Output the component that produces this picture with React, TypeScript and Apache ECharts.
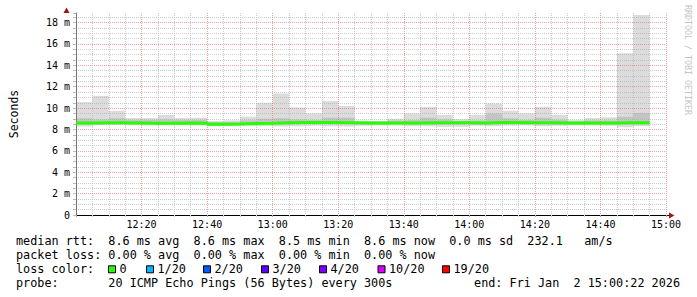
import React, { useEffect, useRef } from 'react';
import * as echarts from 'echarts';

// ---- data (5-minute bins starting at 12:00, minutes since 12:00) ----
const binStarts = [0, 5, 10, 15, 20, 25, 30, 35, 40, 45, 50, 55, 60, 65, 70, 75, 80, 85, 90, 95, 100, 105, 110, 115, 120, 125, 130, 135, 140, 145, 150, 155, 160, 165, 170];
const binMinutes = 5;
const medianV = [8.6, 8.62, 8.62, 8.6, 8.58, 8.58, 8.6, 8.58, 8.5, 8.52, 8.56, 8.58, 8.62, 8.66, 8.66, 8.66, 8.64, 8.6, 8.6, 8.6, 8.6, 8.62, 8.62, 8.62, 8.6, 8.66, 8.66, 8.62, 8.62, 8.6, 8.6, 8.6, 8.6, 8.64, 8.64];
const minV = [8.28, 8.4, 8.42, 8.4, 8.38, 8.4, 8.42, 8.38, 8.3, 8.3, 8.35, 8.3, 8.28, 8.3, 8.35, 8.3, 8.28, 8.35, 8.38, 8.38, 8.3, 8.3, 8.25, 8.25, 8.35, 8.3, 8.35, 8.38, 8.3, 8.35, 8.38, 8.38, 8.35, 8.2, 8.3];
const loV = [8.48, 8.5, 8.5, 8.48, 8.46, 8.46, 8.48, 8.46, 8.38, 8.4, 8.44, 8.46, 8.5, 8.54, 8.54, 8.54, 8.52, 8.48, 8.48, 8.48, 8.48, 8.5, 8.5, 8.5, 8.48, 8.54, 8.54, 8.5, 8.5, 8.48, 8.48, 8.48, 8.48, 8.5, 8.5];
const hiV = [9.05, 8.95, 9.05, 8.9, 8.9, 8.95, 8.9, 8.9, 8.7, 8.72, 8.85, 9.0, 9.05, 8.95, 8.9, 9.1, 9.1, 8.72, 8.72, 8.85, 8.9, 9.1, 8.95, 8.8, 8.85, 9.5, 9.05, 8.9, 9.1, 8.9, 8.75, 8.85, 8.85, 9.2, 9.55];
const maxV = [10.56, 11.15, 9.75, 9.07, 9.07, 9.37, 9.07, 9.1, 8.8, 8.85, 9.2, 10.5, 11.37, 10.06, 9.5, 10.68, 10.2, 8.8, 8.8, 9.0, 9.5, 10.12, 9.37, 8.97, 9.37, 10.43, 9.75, 9.5, 10.12, 9.37, 8.87, 9.07, 9.15, 15.14, 18.72];

const xTickLabels = ['', '12:20', '12:40', '13:00', '13:20', '13:40', '14:00', '14:20', '14:40', '15:00'];
const yTickLabels = ['0', '2 m', '4 m', '6 m', '8 m', '10 m', '12 m', '14 m', '16 m', '18 m'];

const statLines = [
  'median rtt:  8.6 ms avg  8.6 ms max  8.5 ms min  8.6 ms now  0.0 ms sd  232.1   am/s',
  'packet loss: 0.00 % avg  0.00 % max  0.00 % min  0.00 % now',
  'loss color:',
  'probe:       20 ICMP Echo Pings (56 Bytes) every 300s',
];
const endLine = 'end: Fri Jan  2 15:00:22 2026';
const lossLabels = ['0', '1/20', '2/20', '3/20', '4/20', '10/20', '19/20'];
const lossColors = ['#26ff00', '#00b8ff', '#0059ff', '#5e00ff', '#7e00ff', '#dd00ff', '#ff0000'];
const watermark = 'RRDTOOL / TOBI OETIKER';

// ---- layout ----
const MONO = 'DejaVu Sans Mono';
const legendX = [108.5, 146.5, 203.5, 261.5, 319.5, 378, 442.5];
const rowY = [241, 255.3, 269.3, 283.3];
const majorGrid = 'rgba(225,90,90,0.55)';
const minorGrid = 'rgba(170,170,170,0.6)';

export default function App() {
  const ref = useRef<HTMLDivElement>(null);
  useEffect(() => {
    if (!ref.current) return;
    const chart = echarts.init(ref.current, null, { renderer: 'svg' });

    const smokeData = binStarts.map((s, i) => [s, s + binMinutes, minV[i], loV[i], hiV[i], maxV[i]]);
    const medianData = binStarts.map((s, i) => [s, medianV[i]]);
    medianData.push([binStarts[binStarts.length - 1] + binMinutes, medianV[medianV.length - 1]]);

    const graphics: any[] = [];
    statLines.forEach((t, i) => {
      graphics.push({
        type: 'text', x: 16, y: rowY[i], silent: true,
        style: { text: t, font: `11.8px "${MONO}"`, fill: '#000', align: 'left', verticalAlign: 'middle', textAlign: 'left', textVerticalAlign: 'middle' },
      });
    });
    graphics.push({
      type: 'text', x: 680, y: rowY[3], silent: true,
      style: { text: endLine, font: `11.8px "${MONO}"`, fill: '#000', align: 'right', verticalAlign: 'middle', textAlign: 'right', textVerticalAlign: 'middle' },
    });
    lossLabels.forEach((lab, i) => {
      graphics.push({
        type: 'rect', silent: true,
        shape: { x: legendX[i], y: rowY[2] - 3.5, width: 7, height: 7 },
        style: { fill: lossColors[i], stroke: '#000', lineWidth: 1 },
      });
      graphics.push({
        type: 'text', x: legendX[i] + 11, y: rowY[2], silent: true,
        style: { text: lab, font: `11.8px "${MONO}"`, fill: '#000', align: 'left', verticalAlign: 'middle', textAlign: 'left', textVerticalAlign: 'middle' },
      });
    });
    // watermark
    graphics.push({
      type: 'text', x: 688, y: 60, rotation: -Math.PI / 2, silent: true,
      style: { text: watermark, font: `8.3px "${MONO}"`, fill: '#c4c4c4', align: 'center', verticalAlign: 'middle', textAlign: 'center', textVerticalAlign: 'middle' },
    });
    // axis arrows
    graphics.push({ type: 'line', silent: true, shape: { x1: 666, y1: 215.5, x2: 669, y2: 215.5 }, style: { stroke: '#000', lineWidth: 1 } });
    graphics.push({ type: 'polygon', silent: true, shape: { points: [[669, 212.5], [674.5, 215.5], [669, 218.5]] }, style: { fill: '#a01515' } });
    graphics.push({ type: 'polygon', silent: true, shape: { points: [[63.5, 13], [66.5, 7.5], [69.5, 13]] }, style: { fill: '#a01515' } });

    const option: any = {
      animation: false,
      backgroundColor: '#ffffff',
      textStyle: { fontFamily: MONO },
      grid: { left: 66, right: 31, top: 13, bottom: 82, containLabel: false },
      xAxis: {
        type: 'value', min: 0, max: 180, interval: 20, z: 3,
        axisLine: { show: true, lineStyle: { color: '#000', width: 1 } },
        axisTick: { show: true, length: 2, lineStyle: { color: '#aaa' } },
        minorTick: { show: true, splitNumber: 4, length: 2, lineStyle: { color: '#ccc' } },
        axisLabel: {
          formatter: (v: number) => xTickLabels[Math.round(v / 20)] ?? '',
          fontSize: 10, fontFamily: MONO, color: '#000', margin: 4,
        },
        splitLine: { show: true, lineStyle: { color: majorGrid, type: [1, 1], width: 1 } },
        minorSplitLine: { show: true, lineStyle: { color: minorGrid, type: [1, 1], width: 1 } },
      },
      yAxis: {
        type: 'value', min: 0, max: 18.9, interval: 0.5, z: 3,
        name: 'Seconds', nameLocation: 'middle', nameRotate: 90, nameGap: 56,
        nameTextStyle: { fontFamily: MONO, fontSize: 11.5, color: '#000' },
        axisLine: { show: true, lineStyle: { color: '#777', width: 1 } },
        axisTick: { show: true, length: 3, lineStyle: { color: '#bbb' } },
        axisLabel: {
          formatter: (v: number) => {
            const k = v / 2;
            return Math.abs(k - Math.round(k)) < 1e-6 ? (yTickLabels[Math.round(k)] ?? '') : '';
          },
          fontSize: 10, fontFamily: MONO, color: '#000', margin: 6,
        },
        splitLine: {
          show: true, showMaxLine: false,
          lineStyle: { color: [majorGrid, minorGrid, minorGrid, minorGrid], type: [1, 1], width: 1 },
        },
      },
      series: [
        {
          type: 'custom', z: 1, silent: true,
          encode: { x: [0, 1], y: [2, 5] },
          data: smokeData,
          renderItem: (params: any, api: any) => {
            const x0 = api.value(0), x1 = api.value(1);
            const a = api.coord([x0, api.value(5)]);
            const b = api.coord([x1, api.value(2)]);
            const c = api.coord([x0, api.value(4)]);
            const d = api.coord([x1, api.value(3)]);
            return {
              type: 'group',
              children: [
                { type: 'rect', shape: { x: a[0], y: a[1], width: b[0] - a[0], height: b[1] - a[1] }, style: { fill: '#dcdcdc' } },
                { type: 'rect', shape: { x: c[0], y: c[1], width: d[0] - c[0], height: d[1] - c[1] }, style: { fill: '#c4c4c4' } },
              ],
            };
          },
        },
        {
          type: 'line', z: 5, silent: true, step: 'end', symbol: 'none',
          data: medianData,
          lineStyle: { color: '#26ff00', width: 3 },
        },
      ],
      graphic: graphics,
    };
    chart.setOption(option);
    return () => chart.dispose();
  }, []);
  return (
    <div style={{ position: 'fixed', left: 0, top: 0, width: 697, height: 297, background: '#fff' }}>
      <div ref={ref} style={{ width: 697, height: 297 }} />
    </div>
  );
}
